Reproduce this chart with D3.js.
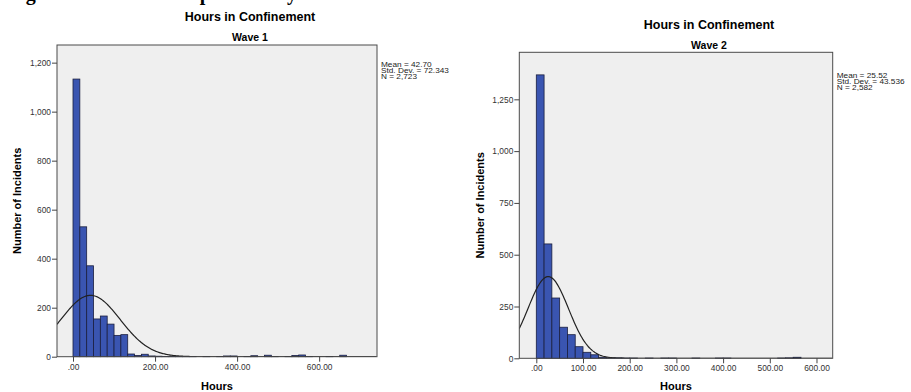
<!doctype html>
<html lang="en">
<head>
<meta charset="UTF-8">
<title>Hours in Confinement</title>
<style>
  body { margin: 0; background: #fff; }
  svg { display: block; font-family: "Liberation Sans", Arial, sans-serif; }
  .plotbg { fill: #efefef; stroke: none; }
  .bar { fill: #3a55b1; stroke: #1b1f3f; stroke-width: 0.8px; }
  .curve { fill: none; stroke: #222; stroke-width: 1.2px; }
  .axis path { display: none; }
  .axis line { stroke: #444; }
  .axis text { font-size: 8.4px; fill: #333; font-family: "Liberation Sans", Arial, sans-serif; }
  .title { font-size: 12.5px; font-weight: bold; }
  .subtitle { font-size: 10.5px; font-weight: bold; }
  .alabel { font-size: 11px; font-weight: bold; }
  .stats { font-size: 7px; fill: #222; }
</style>
</head>
<body>
<script src="https://d3js.org/d3.v7.min.js"></script>
<script>
var binWidth = 16.67;

// wave 1 histogram (bins of ~16.67 hours starting at 0)
var wave1Counts = [1133, 530, 371, 154, 166, 133, 87, 90, 11, 5,
                   10, 3, 2, 1, 2, 1, 1, 1, 0, 1,
                   0, 1, 3, 3, 0, 1, 4, 0, 6, 1,
                   0, 1, 5, 7, 1, 0, 0, 1, 0, 6];
var wave1XTicks = [0, 200, 400, 600];
var wave1YTicks = [0, 200, 400, 600, 800, 1000, 1200];
var wave1Stats = [42.70, 72.343, 2723];
var wave1StatText = ["Mean = 42.70", "Std. Dev. = 72.343", "N = 2,723"];

// wave 2 histogram
var wave2Counts = [1368, 552, 291, 150, 114, 56, 29, 17, 5, 2,
                   2, 1, 1, 0, 1, 0, 1, 1, 0, 0,
                   1, 0, 0, 1, 1, 0, 0, 0, 0, 0,
                   0, 1, 2, 5, 0, 0, 0, 0];
var wave2XTicks = [0, 100, 200, 300, 400, 500, 600];
var wave2YTicks = [0, 250, 500, 750, 1000, 1250];
var wave2Stats = [25.52, 43.536, 2582];
var wave2StatText = ["Mean = 25.52", "Std. Dev. = 43.536", "N = 2,582"];

var svg = d3.select("body").append("svg")
    .attr("width", 911)
    .attr("height", 392);

// page heading above the figure, cut off by the top edge
svg.append("text")
    .attr("x", 8)
    .attr("y", 0)
    .style("font-family", "'Liberation Serif', 'Times New Roman', serif")
    .style("font-weight", "bold")
    .style("font-size", "20px")
    .text("Figure 3. Detention Population by Wave");

function drawHist(o) {
  var g = svg.append("g");
  var x = d3.scaleLinear().domain(o.xDomain).range([o.left, o.right]);
  var y = d3.scaleLinear().domain(o.yDomain).range([o.bottom, o.top]);

  g.append("rect")
      .attr("class", "plotbg")
      .attr("x", o.left).attr("y", o.top)
      .attr("width", o.right - o.left)
      .attr("height", o.bottom - o.top);

  var clipId = "clip" + o.id;
  svg.append("clipPath").attr("id", clipId)
    .append("rect")
      .attr("x", o.left).attr("y", o.top)
      .attr("width", o.right - o.left)
      .attr("height", o.bottom - o.top);

  g.selectAll(".bar")
      .data(o.counts.map(function(c, i) { return {x0: i * binWidth, x1: (i + 1) * binWidth, c: c}; })
                    .filter(function(d) { return d.c > 0 && d.x0 < o.xDomain[1]; }))
    .enter().append("rect")
      .attr("class", "bar")
      .attr("x", function(d) { return x(d.x0); })
      .attr("width", function(d) { return x(d.x1) - x(d.x0); })
      .attr("y", function(d) { return y(d.c); })
      .attr("height", function(d) { return y(0) - y(d.c); });

  // fitted normal curve from the chart's mean / sd / N
  var mean = o.stats[0], sd = o.stats[1], n = o.stats[2];
  var pts = d3.range(o.xDomain[0], o.xDomain[1], 2).map(function(v) {
    var z = (v - mean) / sd;
    return [v, n * binWidth * Math.exp(-0.5 * z * z) / (sd * Math.sqrt(2 * Math.PI))];
  });
  g.append("path")
      .datum(pts)
      .attr("class", "curve")
      .attr("clip-path", "url(#" + clipId + ")")
      .attr("d", d3.line().x(function(d) { return x(d[0]); }).y(function(d) { return y(d[1]); }));

  g.append("rect")
      .attr("x", o.left).attr("y", o.top)
      .attr("width", o.right - o.left)
      .attr("height", o.bottom - o.top)
      .style("fill", "none").style("stroke", "#4a4a4a");

  g.append("g")
      .attr("class", "axis")
      .attr("transform", "translate(0," + o.bottom + ")")
      .call(d3.axisBottom(x).tickValues(o.xTicks).tickSize(5).tickPadding(2)
            .tickFormat(function(d) { return d === 0 ? ".00" : d3.format(".2f")(d); }));

  g.append("g")
      .attr("class", "axis")
      .attr("transform", "translate(" + o.left + ",0)")
      .call(d3.axisLeft(y).tickValues(o.yTicks).tickSize(5).tickPadding(1)
            .tickFormat(d3.format(",")));

  var cx = (o.left + o.right) / 2;
  g.append("text").attr("class", "title")
      .attr("x", cx + 33).attr("y", o.titleY)
      .attr("text-anchor", "middle")
      .text("Hours in Confinement");
  g.append("text").attr("class", "subtitle")
      .attr("x", cx + 33).attr("y", o.titleY + 20)
      .attr("text-anchor", "middle")
      .text(o.wave);
  g.append("text").attr("class", "alabel")
      .attr("x", cx).attr("y", 390)
      .attr("text-anchor", "middle")
      .text("Hours");
  g.append("text").attr("class", "alabel")
      .attr("transform", "translate(" + o.ylabX + "," + ((o.top + o.bottom) / 2) + ") rotate(-90)")
      .attr("text-anchor", "middle")
      .text("Number of Incidents");

  // stats box text, slightly widened like the SPSS output
  g.append("g")
      .attr("transform", "translate(" + (o.right + 4) + "," + o.statsY + ") scale(1.18,1)")
    .selectAll(".stats")
      .data(o.statText)
    .enter().append("text")
      .attr("class", "stats")
      .attr("x", 0)
      .attr("y", function(d, i) { return i * 6.2; })
      .text(function(d) { return d; });
}

drawHist({
  id: 1, left: 57, right: 377, top: 45, bottom: 356.7,
  xDomain: [-39, 741], yDomain: [0, 1272],
  counts: wave1Counts, xTicks: wave1XTicks, yTicks: wave1YTicks,
  stats: wave1Stats, statText: wave1StatText,
  wave: "Wave 1", titleY: 21, ylabX: 21, statsY: 67
});

drawHist({
  id: 2, left: 519.3, right: 832.7, top: 52.3, bottom: 358.3,
  xDomain: [-36.4, 634.7], yDomain: [0, 1477],
  counts: wave2Counts, xTicks: wave2XTicks, yTicks: wave2YTicks,
  stats: wave2Stats, statText: wave2StatText,
  wave: "Wave 2", titleY: 29, ylabX: 484, statsY: 78
});
</script>
</body>
</html>
